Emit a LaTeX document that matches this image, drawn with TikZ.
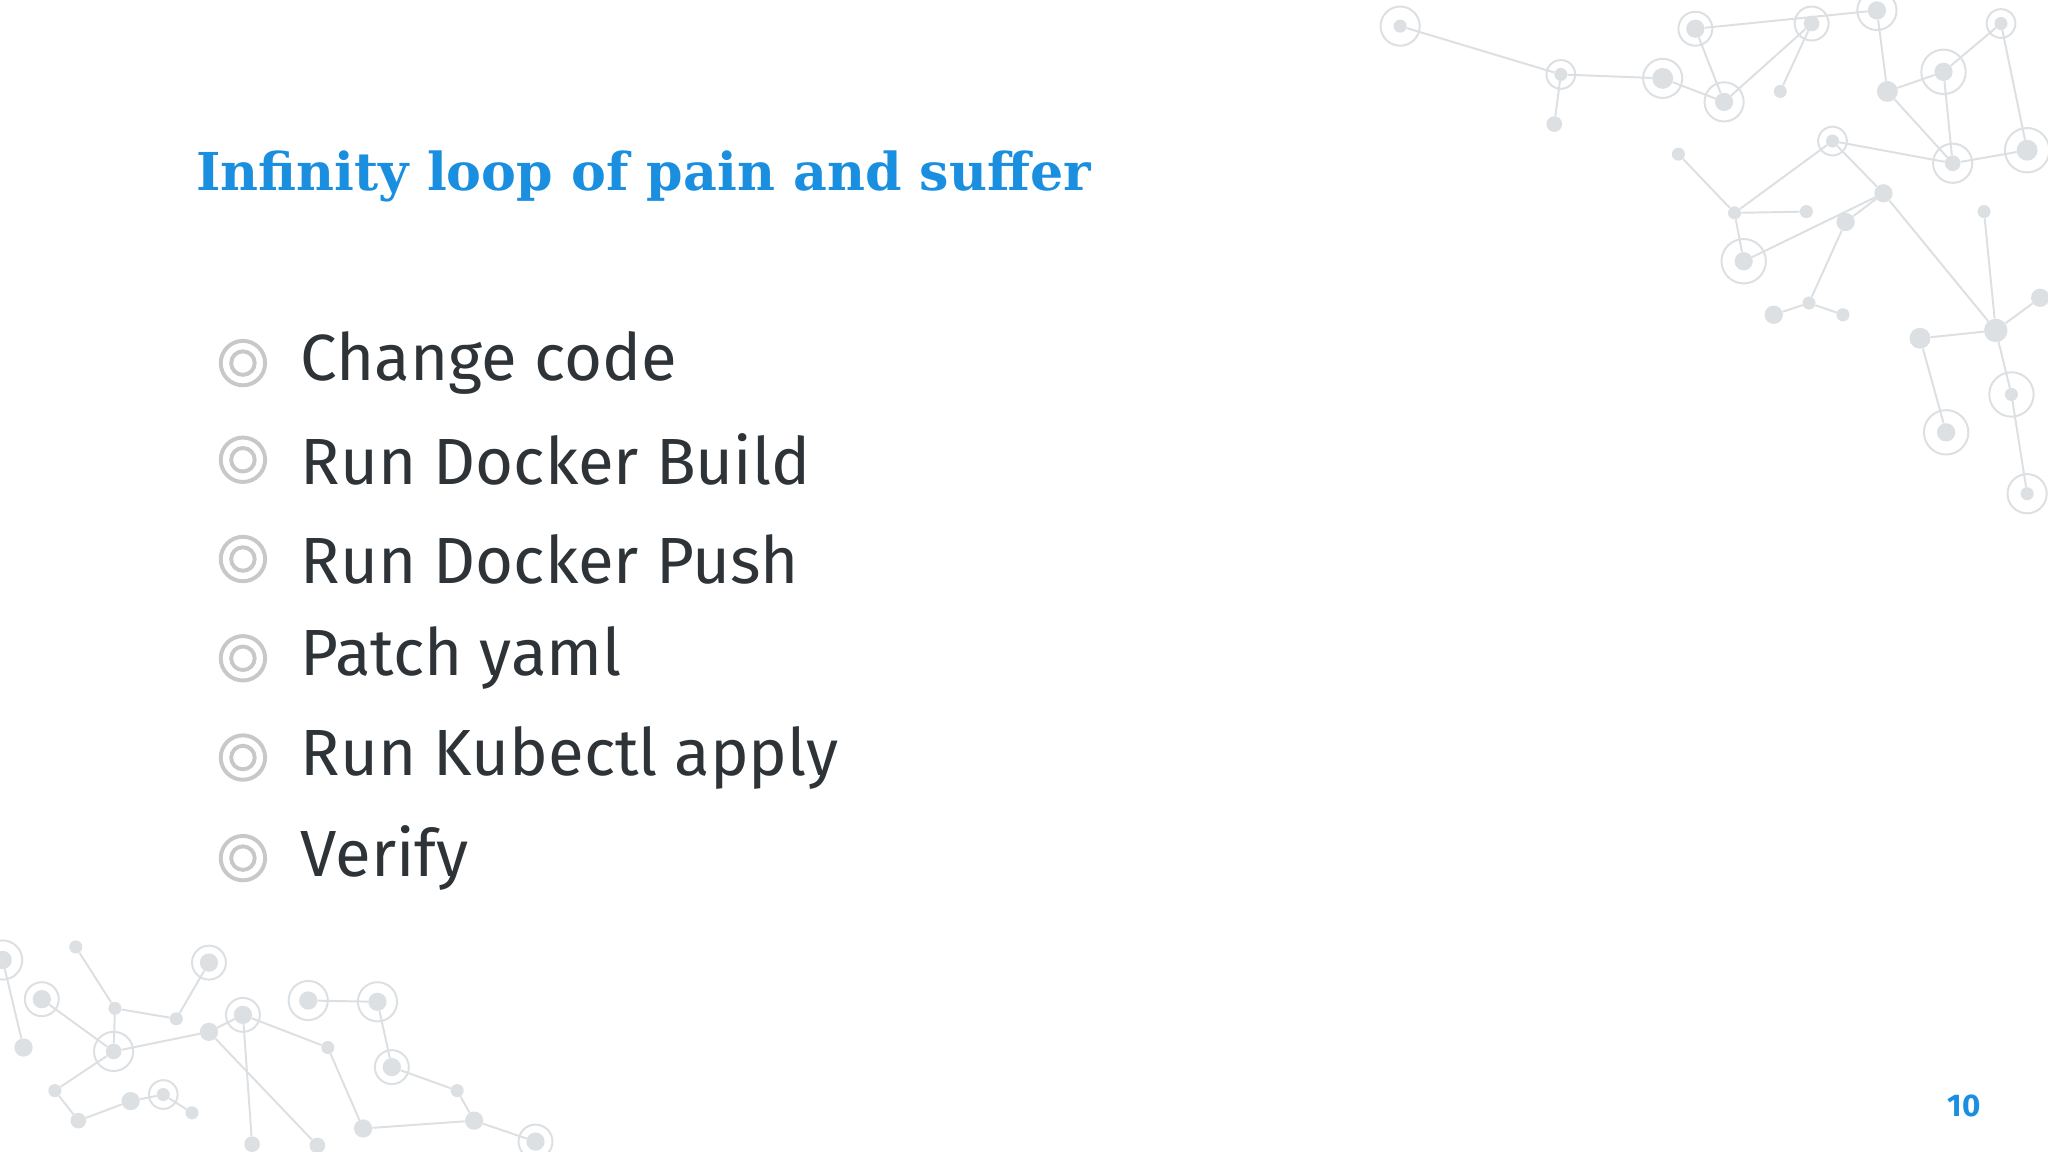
\documentclass[tikz,border=0pt]{standalone}
\usepackage{fontspec}
\setmainfont{Fira Sans}
\newfontfamily\titlefont{DejaVu Serif}
\definecolor{ttl}{HTML}{1A8FE0}
\definecolor{txt}{HTML}{2E3338}
\definecolor{bul}{HTML}{C8C8C8}
\definecolor{net}{HTML}{DCE0E3}
\begin{document}
\begin{tikzpicture}[x=1pt,y=-1pt,
  bullet/.style={circle,draw=bul,line width=3,minimum size=34,inner sep=0},
  inb/.style={circle,draw=bul,line width=3,minimum size=18,inner sep=0},
  item/.style={anchor=west,text=txt,font=\fontsize{50}{60}\selectfont,inner sep=0},
  dot/.style={circle,fill=net,inner sep=0,minimum size=#1},
  ring/.style={circle,draw=net,line width=1.5,inner sep=0,minimum size=#1},
  lk/.style={draw=net,line width=1.5}]
\useasboundingbox[fill=white] (0,0) rectangle (1568,882);
% network top right
\foreach \n/\x/\y/\s in {a/1072/20/10,b/1195/57/10,c/1190/95/12,d/1273/60/16,e/1320/78/14,f/1298/22/14,g/1387/18/12,h/1363/70/10,i/1437/8/14,j/1445/70/16,k/1488/55/14,l/1495/125/12,m/1532/18/10,n/1552/115/16,o/1403/108/10,p/1442/148/14,q/1413/170/14,r/1285/118/10,s/1328/163/10,t/1383/162/10,u/1335/200/14,v/1385/232/10,w/1358/241/14,x/1411/241/10,y/1519/162/10,z/1470/259/16,A/1528/253/18,B/1540/302/10,C/1490/331/14,D/1552/378/10,E/1562/228/14}
  \node[dot=\s] (\n) at (\x,\y) {};
\foreach \n/\s in {a/30,b/22,d/30,e/30,g/26,i/30,k/34,l/30,m/22,n/34,o/22,u/34,C/34,B/34,D/30,f/26}
  \node[ring=\s] at (\n) {};
\foreach \u/\v in {a/b,b/c,b/d,d/e,e/f,e/g,g/h,f/i,i/j,j/k,k/m,k/l,l/n,l/o,o/p,o/s,r/s,s/t,s/u,u/p,p/q,q/v,v/w,v/x,p/A,A/z,z/C,A/B,B/D,y/A,E/A,j/l,m/n}
  \path[lk] (\u) -- (\v);
% network bottom left
\foreach \n/\x/\y/\s in {A1/58/725/10,A2/32/765/14,A3/18/802/14,A4/88/772/10,A5/87/805/12,A6/42/835/10,A7/60/858/12,A8/100/843/14,A9/125/838/10,B1/160/737/14,B2/135/780/10,B3/160/790/14,B4/186/777/14,B5/236/766/14,B6/289/767/14,B7/251/802/10,B8/300/817/14,B9/350/835/10,C1/278/864/14,C2/363/858/14,C3/410/874/14,C4/193/876/12,C5/243/877/12,C6/2/735/14,C7/147/852/10}
  \node[dot=\s] (\n) at (\x,\y) {};
\foreach \n/\s in {A2/26,A5/30,B1/26,B4/26,B5/30,B6/30,B8/26,A9/22,C6/30,C3/26}
  \node[ring=\s] at (\n) {};
\foreach \u/\v in {A1/A4,A4/A5,A2/A5,A4/B2,B2/B1,A5/B3,A5/A6,A6/A7,A7/A8,A8/A9,A9/C7,B3/B4,B4/C4,B3/C5,B5/B6,B6/B8,B7/C1,B8/B9,B9/C2,C1/C2,C2/C3,A3/C6,B4/B7}
  \path[lk] (\u) -- (\v);
% title
\node[anchor=base west,text=ttl,font=\titlefont\bfseries\fontsize{40}{48}\selectfont,inner sep=0] (title) at (150,146) {Infinity loop of pain and suffer};
% items
\foreach \i/\y/\t in {1/278/Change code,2/352/Run Docker Build,3/428/Run Docker Push,4/504/Patch yaml,5/580/Run Kubectl apply,6/657/Verify}{
  \node[bullet] (b\i) at (186,\y) {};
  \node[inb] at (b\i) {};
  \node[item] (t\i) at (230,\y) {\t};
}
\node[text=ttl,font=\bfseries\fontsize{24}{28}\selectfont,inner sep=0] (pg) at (1504,847) {10};
\end{tikzpicture}
\end{document}
